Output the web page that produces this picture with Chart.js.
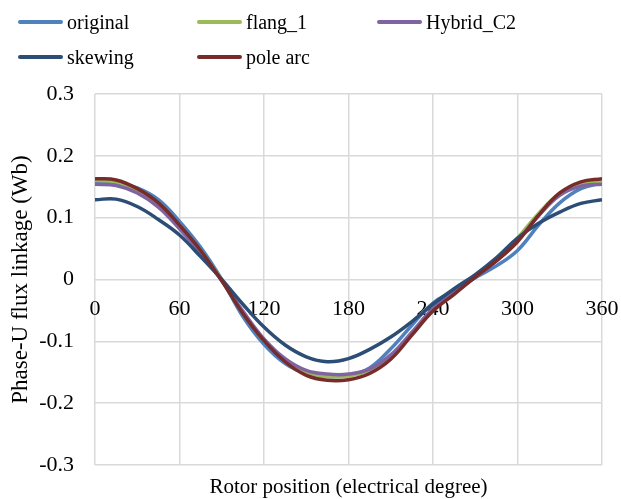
<!DOCTYPE html>
<html><head><meta charset="utf-8">
<script src="https://cdn.jsdelivr.net/npm/chart.js@4/dist/chart.umd.min.js"></script>
<style>
html,body{margin:0;padding:0;background:#fff;}
#wrap{position:relative;width:621px;height:499px;}
#legend{position:absolute;left:0;top:0;width:621px;height:80px;font-family:"Liberation Serif","Times New Roman",serif;font-size:20px;color:#000;}
.item{position:absolute;display:flex;align-items:center;height:24px;line-height:24px;white-space:nowrap;}
.sw{width:45px;height:4px;border-radius:2px;margin-right:4px;}
</style></head>
<body><div id="wrap"><canvas id="c" width="621" height="499"></canvas><div id="legend"></div></div>
<script>
const angles = [0,15,30,45,60,75,90,105,120,135,150,165,180,195,210,225,240,255,270,285,300,315,330,345,360];
const original = [0.158,0.157,0.148,0.129,0.094,0.052,0.000,-0.060,-0.105,-0.136,-0.152,-0.157,-0.155,-0.143,-0.112,-0.074,-0.038,-0.018,0.003,0.022,0.047,0.088,0.124,0.147,0.156];
const flang_1 = [0.160,0.158,0.145,0.122,0.086,0.046,-0.001,-0.053,-0.098,-0.131,-0.150,-0.157,-0.156,-0.147,-0.124,-0.087,-0.048,-0.020,0.006,0.034,0.067,0.107,0.139,0.155,0.158];
const hybrid_C2 = [0.154,0.152,0.140,0.117,0.082,0.043,-0.002,-0.051,-0.096,-0.128,-0.147,-0.153,-0.153,-0.145,-0.122,-0.085,-0.047,-0.020,0.004,0.030,0.063,0.103,0.136,0.151,0.154];
const skewing = [0.129,0.130,0.118,0.097,0.072,0.037,0.000,-0.040,-0.077,-0.106,-0.125,-0.133,-0.128,-0.113,-0.093,-0.068,-0.040,-0.015,0.008,0.035,0.067,0.091,0.109,0.123,0.129];
const pole_arc = [0.163,0.161,0.147,0.124,0.088,0.047,-0.002,-0.055,-0.099,-0.133,-0.155,-0.163,-0.162,-0.152,-0.129,-0.090,-0.051,-0.024,0.004,0.030,0.061,0.104,0.140,0.158,0.163];
const seriesNames = ["original","flang_1","Hybrid_C2","skewing","pole arc"];
const seriesColors = ["#4F81BD","#9BBB59","#8064A2","#2C4D75","#772C2A"];
const xTicks = [0,60,120,180,240,300,360];
const yTicks = [-0.3,-0.2,-0.1,0,0.1,0.2,0.3];
const xTitle = "Rotor position (electrical degree)";
const yTitle = "Phase-U flux linkage (Wb)";

const seriesData = [original, flang_1, hybrid_C2, skewing, pole_arc];
const serif = "'Liberation Serif','Times New Roman',serif";
const gridColor = "#d9d9d9";

const datasets = seriesData.map((vals, i) => ({
  label: seriesNames[i],
  data: angles.map((a, j) => ({x: a, y: vals[j]})),
  borderColor: seriesColors[i],
  backgroundColor: seriesColors[i],
  borderWidth: 3.5,
  pointRadius: 0,
  tension: 0.4,
  fill: false,
  order: seriesData.length - i
}));

function setTicks(values){ return function(scale){ scale.ticks = values.map(v => ({value: v})); }; }

new Chart(document.getElementById('c'), {
  type: 'line',
  data: {datasets},
  options: {
    responsive: false,
    devicePixelRatio: 1,
    animation: false,
    layout: {padding: {left: 6, right: 19, top: 94, bottom: 0}},
    plugins: {legend: {display: false}, tooltip: {enabled: false}},
    scales: {
      x: {
        type: 'linear', min: 0, max: 360, position: 'bottom',
        afterBuildTicks: setTicks(xTicks),
        ticks: {display: false},
        grid: {color: gridColor, lineWidth: 1.5, drawTicks: false},
        border: {display: false},
        title: {display: true, text: xTitle, color: '#000', font: {family: serif, size: 21}, padding: {top: 8, bottom: -1}},
        afterFit: s => { s.height = 34; s.paddingLeft = 0; s.paddingRight = 0; }
      },
      x2: {
        type: 'linear', min: 0, max: 360, position: {y: 0},
        afterBuildTicks: setTicks(xTicks),
        ticks: {color: '#000', font: {family: serif, size: 22}, padding: 17, maxRotation: 0, autoSkip: false},
        grid: {display: false, drawTicks: false},
        border: {display: false},
        afterFit: s => { s.paddingLeft = 0; s.paddingRight = 0; }
      },
      y: {
        type: 'linear', min: -0.3, max: 0.3,
        afterBuildTicks: setTicks(yTicks),
        ticks: {color: '#000', font: {family: serif, size: 22}, padding: 21,
          callback: v => String(Math.round(v * 10) / 10)},
        grid: {color: gridColor, lineWidth: 1.5, drawTicks: false},
        border: {display: false},
        title: {display: true, text: yTitle, color: '#000', font: {family: serif, size: 23}, padding: {top: 1, bottom: 2}},
        afterFit: s => { s.width = 89; s.paddingTop = 0; s.paddingBottom = 0; }
      }
    }
  }
});

const legend = document.getElementById('legend');
const colX = [18, 197, 377];
const rowY = [22, 57];
seriesNames.forEach((name, i) => {
  const it = document.createElement('div');
  it.className = 'item';
  it.style.left = colX[i % 3] + 'px';
  it.style.top = (rowY[Math.floor(i / 3)] - 12) + 'px';
  const sw = document.createElement('span');
  sw.className = 'sw';
  sw.style.background = seriesColors[i];
  const tx = document.createElement('span');
  tx.textContent = name;
  it.appendChild(sw); it.appendChild(tx);
  legend.appendChild(it);
});
</script>
</body></html>
